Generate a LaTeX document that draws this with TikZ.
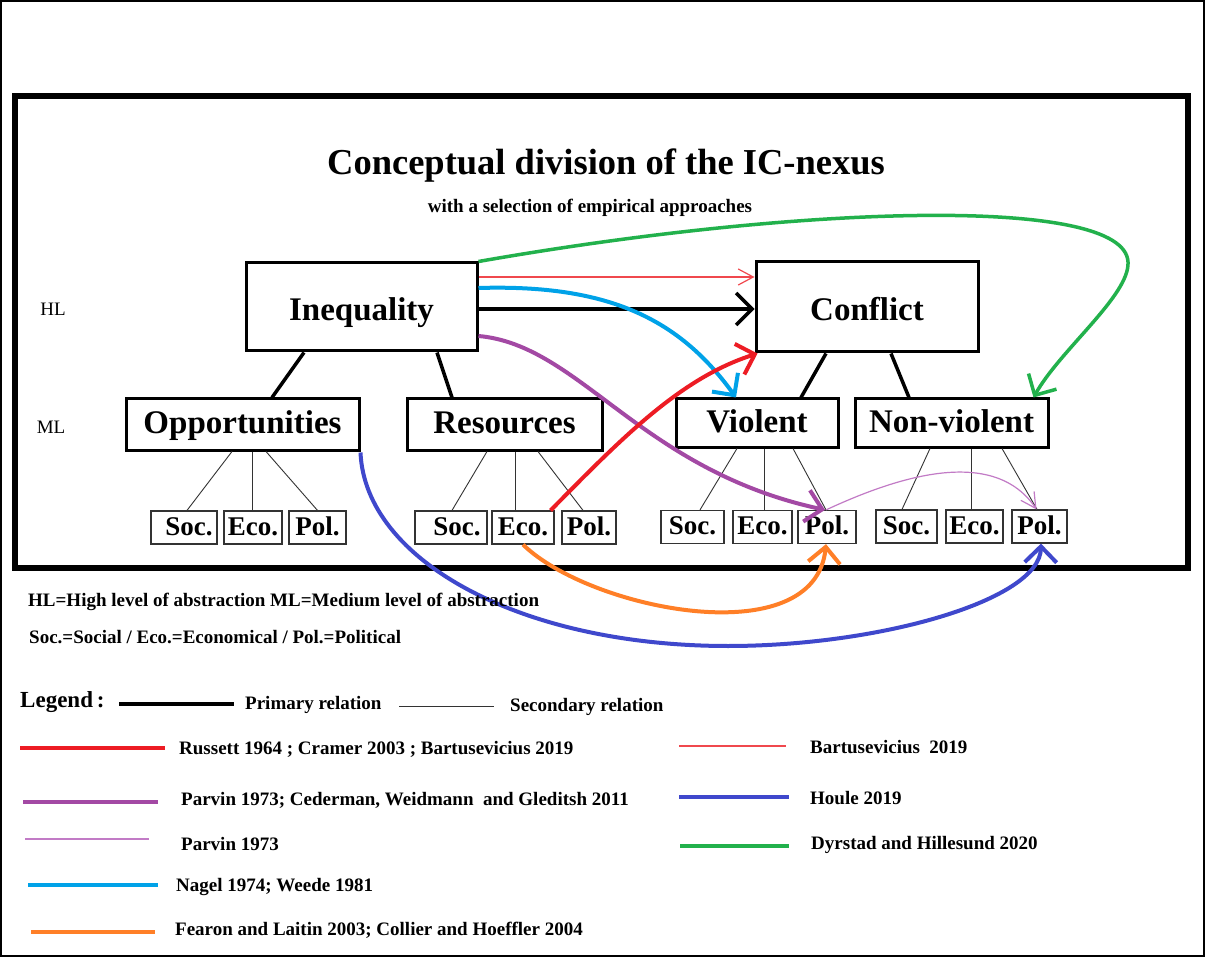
\documentclass[tikz,border=0pt]{standalone}
\usepackage{fontspec}
\setmainfont{Liberation Serif}
\usetikzlibrary{arrows.meta}

\definecolor{cRed}{HTML}{ED1C24}
\definecolor{cRedThin}{HTML}{F0484E}
\definecolor{cPurple}{HTML}{A349A4}
\definecolor{cPurpleThin}{HTML}{C27BC6}
\definecolor{cCyan}{HTML}{00A2E8}
\definecolor{cOrange}{HTML}{FF7F27}
\definecolor{cBlue}{HTML}{3F48CC}
\definecolor{cGreen}{HTML}{22B14C}

\tikzset{
  bigbox/.style={draw, line width=3pt, inner sep=0pt, text height=28pt, text depth=0pt,
    font=\fontsize{33}{38}\selectfont\bfseries},
  midbox/.style={bigbox, text height=19pt},
  subbox/.style={draw=black!80, line width=1.2pt, inner sep=0pt, text height=15pt, text depth=0pt,
    minimum height=33pt, font=\fontsize{27}{31}\selectfont\bfseries},
  primary/.style={line width=3.5pt},
  secondary/.style={line width=0.9pt, draw=black!80},
  barb/.style={-{Straight Barb[length=16pt,width=32pt]}},
  thinbarb/.style={-{Straight Barb[length=15pt,width=16pt]}},
  legtext/.style={anchor=west, inner sep=0pt,
    font=\fontsize{19}{22}\selectfont\bfseries},
  thickref/.style={line width=4pt},
  thinref/.style={line width=1.2pt},
}

\begin{document}
\begin{tikzpicture}[x=1pt,y=-1pt]
\useasboundingbox (0,0) rectangle (1205,957);
\fill[white] (0,0) rectangle (1205,957);

% frames
\draw[line width=2pt] (1,1) rectangle (1204,956);
\draw[line width=6pt] (15,96) rectangle (1188,568);

% headings
\node[anchor=base, font=\fontsize{36.5}{40}\selectfont\bfseries] (title) at (606,175)
  {Conceptual division of the IC-nexus};
\node[anchor=base, font=\fontsize{19}{22}\selectfont\bfseries] (subtitle) at (590,213)
  {with a selection of empirical approaches};
\node[anchor=base, font=\fontsize{19}{22}\selectfont] (hl) at (53,316) {HL};
\node[anchor=base, font=\fontsize{19}{22}\selectfont] (ml) at (51,433) {ML};

% high level
\node[bigbox, minimum width=231pt, minimum height=88pt] (ineq) at (361.5,307) {Inequality};
\node[bigbox, minimum width=222pt, minimum height=90pt] (conf) at (867,307) {Conflict};

% medium level
\node[midbox, minimum width=233pt, minimum height=51pt] (opp) at (242.5,424.5) {Opportunities};
\node[midbox, minimum width=195pt, minimum height=51pt] (res) at (504.5,424.5) {Resources};
\node[midbox, minimum width=162pt, minimum height=48pt] (vio) at (757,423) {Violent};
\node[midbox, minimum width=193pt, minimum height=48pt] (nvio) at (951.5,423) {Non-violent};

% low level
\node[subbox, minimum width=66pt] (socA) at (184,527.5) {\hspace*{10pt}Soc.};
\node[subbox, minimum width=58pt] (ecoA) at (253,527.5) {Eco.};
\node[subbox, minimum width=57pt] (polA) at (317.5,527.5) {Pol.};
\node[subbox, minimum width=72pt] (socB) at (451,527.5) {\hspace*{12pt}Soc.};
\node[subbox, minimum width=62pt] (ecoB) at (523,527.5) {Eco.};
\node[subbox, minimum width=54pt] (polB) at (589,527.5) {Pol.};
\node[subbox, minimum width=63pt] (socC) at (692.5,527) {Soc.};
\node[subbox, minimum width=59pt] (ecoC) at (762.5,527) {Eco.};
\node[subbox, minimum width=58pt] (polC) at (827,527) {Pol.};
\node[subbox, minimum width=61pt] (socD) at (906.5,526.5) {Soc.};
\node[subbox, minimum width=57pt] (ecoD) at (974.5,526.5) {Eco.};
\node[subbox, minimum width=55pt] (polD) at (1039.5,526.5) {Pol.};

% primary relations
\draw[primary] ([xshift=-57.5pt]ineq.south) -- ([xshift=29.5pt]opp.north);
\draw[primary] ([xshift=75.5pt]ineq.south) -- ([xshift=-52.5pt]res.north);
\draw[primary] ([xshift=-41pt]conf.south) -- ([xshift=44pt]vio.north);
\draw[primary] ([xshift=24pt]conf.south) -- ([xshift=-42.5pt]nvio.north);

% secondary relations
\draw[secondary] ([xshift=-10.5pt]opp.south) -- ([xshift=3pt]socA.north);
\draw[secondary] ([xshift=9.5pt]opp.south) -- ([xshift=-1pt]ecoA.north);
\draw[secondary] ([xshift=23.5pt]opp.south) -- (polA.north);
\draw[secondary] ([xshift=-17.5pt]res.south) -- ([xshift=1pt]socB.north);
\draw[secondary] ([xshift=10.5pt]res.south) -- ([xshift=-8pt]ecoB.north);
\draw[secondary] ([xshift=33.5pt]res.south) -- ([xshift=-6pt]polB.north);
\draw[secondary] ([xshift=-20pt]vio.south) -- ([xshift=7.5pt]socC.north);
\draw[secondary] ([xshift=7pt]vio.south) -- ([xshift=1.5pt]ecoC.north);
\draw[secondary] ([xshift=36pt]vio.south) -- ([xshift=-1pt]polC.north);
\draw[secondary] ([xshift=-21.5pt]nvio.south) -- ([xshift=-4.5pt]socD.north);
\draw[secondary] ([xshift=19.5pt]nvio.south) -- ([xshift=-3.5pt]ecoD.north);
\draw[secondary] ([xshift=50.5pt]nvio.south) -- ([xshift=-2.5pt]polD.north);

% empirical approaches
\draw[primary, barb] ([yshift=-2pt]ineq.east) -- ([yshift=-2pt]conf.west);
\draw[cRedThin, line width=1.2pt, thinbarb] ([yshift=30pt]ineq.east) -- ([yshift=30pt]conf.west);
\draw[cCyan, thickref, barb] ([yshift=19pt]ineq.east)
  .. controls (610,284) and (680,320) .. ([xshift=-21pt]vio.north);
\draw[cPurple, thickref, barb] ([yshift=-29pt]ineq.east)
  .. controls (580,345) and (640,470) .. ([xshift=-2pt]polC.north);
\draw[cPurpleThin, thinref, thinbarb] ([xshift=-1pt]polC.north)
  .. controls (880,485) and (990,440) .. ([xshift=-3pt]polD.north);
\draw[cRed, thickref, barb] ([xshift=-4pt]ecoB.north east)
  .. controls (620,440) and (680,378) .. ([xshift=3pt]conf.south west);
\draw[cOrange, thickref, barb] (ecoB.south)
  .. controls (590,610) and (815,655) .. ([xshift=-1pt]polC.south);
\coordinate (blueLow) at (728,646);
\draw[cBlue, thickref, barb] ([yshift=-1pt]opp.south east)
  .. controls (365,560) and (520,646) .. (blueLow)
  .. controls (880,646) and (1040,600) .. ([xshift=1.5pt]polD.south);
\coordinate (greenTurn) at (1128,262);
\draw[cGreen, line width=3.5pt, barb] (ineq.north east)
  .. controls (800,205) and (1125,195) .. (greenTurn)
  .. controls (1130,295) and (1060,350) .. ([xshift=-16pt]nvio.north east);

% abbreviations
\node[legtext] (abbr1) at (28,602) {HL=High level of abstraction ML=Medium level of abstraction};
\node[legtext] (abbr2) at (29,637) {Soc.=Social / Eco.=Economical / Pol.=Political};

% legend
\node[legtext, font=\fontsize{23}{26}\selectfont\bfseries] (leg) at (20,702) {Legend\,:};
\draw[line width=4pt] (119,704) -- (234,704);
\node[legtext] at (245,705) {Primary relation};
\draw[secondary] (399,706) -- (494,706);
\node[legtext] at (510,707) {Secondary relation};

\draw[cRed, thickref] (20,748) -- (165,748);
\node[legtext] at (179,749) {Russett 1964 ; Cramer 2003 ; Bartusevicius 2019};
\draw[cPurple, thickref] (23,802) -- (158,802);
\node[legtext] at (181,800) {Parvin 1973; Cederman, Weidmann\ \ and Gleditsh 2011};
\draw[cPurpleThin, thinref] (25,839) -- (149,839);
\node[legtext] at (181,844) {Parvin 1973};
\draw[cCyan, thickref] (28,885) -- (158,885);
\node[legtext] at (176,887) {Nagel 1974; Weede 1981};
\draw[cOrange, thickref] (31,932) -- (155,932);
\node[legtext] at (175,930) {Fearon and Laitin 2003; Collier and Hoeffler 2004};

\draw[cRedThin, thinref] (679,746) -- (786,746);
\node[legtext] at (810,747) {Bartusevicius\ \ 2019};
\draw[cBlue, thickref] (679,797) -- (789,797);
\node[legtext] at (810,798) {Houle 2019};
\draw[cGreen, thickref] (680,846) -- (789,846);
\node[legtext] at (811,845) {Dyrstad and Hillesund 2020};
\end{tikzpicture}
\end{document}
